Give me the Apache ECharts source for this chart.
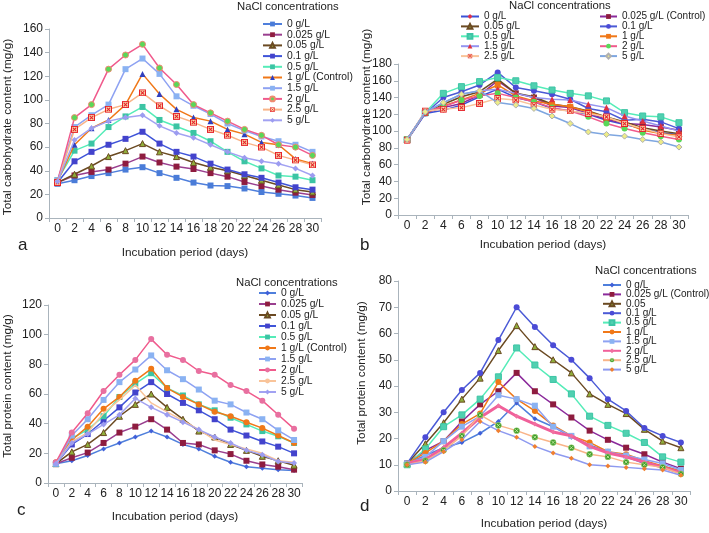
<!DOCTYPE html>
<html><head><meta charset="utf-8">
<script src="https://cdn.jsdelivr.net/npm/echarts/dist/echarts.min.js"></script>
<style>html,body{margin:0;padding:0;background:#fff}#c{width:709px;height:533px}</style>
</head><body><div id="c"></div>
<script>
// ---------- data ----------
const days = ['0','2','4','6','8','10','12','14','16','18','20','22','24','26','28','30'];
const yTicksA = [0,160,20], yTicksB = [0,180,20], yTicksC = [0,120,20], yTicksD = [0,80,10];

const namesA = ['0 g/L','0.025 g/L','0.05 g/L','0.1 g/L','0.5 g/L','1 g/L (Control)','1.5 g/L','2 g/L','2.5 g/L','5 g/L'];
const namesB = ['0 g/L','0.025 g/L (Control)','0.05 g/L','0.1 g/L','0.5 g/L','1 g/L','1.5 g/L','2 g/L','2.5 g/L','5 g/L'];
const namesC = ['0 g/L','0.025 g/L','0.05 g/L','0.1 g/L','0.5 g/L','1 g/L (Control)','1.5 g/L','2 g/L','2.5 g/L','5 g/L'];
const namesD = ['0 g/L','0.025 g/L (Control)','0.05','0.1 g/L','0.5 g/L','1 g/L','1.5 g/L','2 g/L','2.5 g/L','5 g/L'];

// a: total carbohydrate
const a0    = [29,32,35.5,38,41,43,38,34,30,27.5,27,25,22,20.5,19,17];
const a0025 = [30,36,39,41,46,52,47,43.5,41.5,38,35,30.5,27,24,21.5,19.5];
const a005  = [30,37,44,52,57,63,56,52,47,43,40,36,32,28,24,22];
const a01   = [30,48,56,62,67,73,63,56,52,46,41,37,34,30,26,24];
const a05   = [32,57,63,77,86,94,83,77.5,72,65,56,48,42,36,35,32];
const a1    = [31,62,76,83,96,122,105,92,85,82,75,71,64,62,50,46];
const a15   = [32,77,87,96,126,135,122,103,95,88,80,74,69,65,62,56];
const a2    = [31,85,96,126,138,147,127,113,96,89,82,75,70,62,60,53];
const a25   = [30,75,85,92,96,106,95,86,81,75,70,64,60,53,49,45];
const a5    = [31,66,76,82,85,87,78,72,68,62,56,51,48,46,42,36];

// b: total carbohydrate
const b0    = [89,121,125,131,141,150,140,135,127,124,120,113,108,103,98,96];
const b0025 = [90,122,128,133,143,160,145,140,130,128,121,114,109,108,105,101];
const b005  = [90,122,132,141,147,162,145,141,132,129,124,117,111,104,100,97];
const b01   = [89,121,140,147,155,170,152,148,144,138,127,123,113,114,111,103];
const b05   = [90,122,145,153,159,164,160,154,149,145,142,136,122,118,117,110];
const b1    = [90,122,130,137,145,155,142,136,132,129,123,116,110,101,97,95];
const b15   = [90,122,134,144,148,150,145,140,138,137,132,128,118,112,106,100];
const b2    = [90,123,129,137,142,145,140,135,128,124,117,109,103,98,94,90];
const b25   = [89,124,126,128,133,139,137,131,126,124,121,117,109,103,97,93];
const b5    = [90,123,134,144,148,134,131,127,118,109,99,96,94,90,87,81];

// c: total protein
const c0    = [13,15,18.5,23,27,31,35,31,26,23,18,14,11,10,9,8.5];
const c0025 = [13,17,20.5,27,34,38,43,36,27,26,22,19.5,15,12.5,11,9];
const c005  = [13,21,26,34,45,53,60,51,43,35,31,26,22,18,15,12];
const c01   = [13,26,33,42,51,61,68,60,54,49,43,36,32,28,24.5,20];
const c05   = [13,30,36,45,58,67,74,64,59,53,49,44,39.5,35,31.5,27];
const c1    = [14,29,38,50,58,69,77,64,58,53,48,45,41,37,32,27];
const c15   = [13,32,43,56,68,76.5,86,76,70,63,55.5,53,47.5,43,35.5,29];
const c2    = [14,34,47,62,73,83,97,86.5,83,75.5,73,66,62,55.5,46,36.5];
const c25   = [13,28,34,47,56,66,54,48,42,36,29,26,23,20,15,14];
const c5    = [13,27,33,39.5,46,57,51,46,41,36,31,27,22,19,14.5,13.5];

// d: total protein
const d0    = [10.5,13.5,16.5,18.5,22,26.5,33.5,27.5,24.5,20.5,17.5,15,13,10.5,9.5,7.5];
const d0025 = [10.5,15.5,19,26.5,33,38,45,38,33,28,23,19.5,16.5,14,11,8.5];
const d005  = [10.5,18,26,35,43,53.5,63,55,50,45,37,33,29.5,23.5,19,16.5];
const d01   = [10.5,20.5,30,38.5,45,57.5,70,62.5,55.5,50,43,35,30.5,24,21,18.5];
const d05   = [10,16,24.5,29,35,43.5,54.5,48,42.5,37,28.5,25,22,18.5,13,11];
const d1    = [10.5,14.5,19,25.5,29.5,41.5,35,30.5,25,21,18.5,15,14,11.5,9.5,7.5];
const d15   = [10.5,13,19,24.5,28.5,36.5,35,32.5,24.5,21,17,15,13.5,12,10.5,8];
const d2    = [10.5,12,16.5,22,28,32.5,28.5,25.5,22.5,21,17,14.5,13,11,9,7];
const d25   = [10,11.5,15.5,21,29,25,23,20.5,18.5,16.5,14,13,11,10,9,6.5];
const d5    = [10,11,15,19.5,26.5,23,20.5,17,14.5,12.5,10,9.5,9,8.5,8,6];

// ---------- styles ----------
function svgSym(svg){ return 'image://data:image/svg+xml;charset=utf-8,' + encodeURIComponent(svg); }
const XSQ = svgSym("<svg xmlns='http://www.w3.org/2000/svg' width='20' height='20' viewBox='0 0 20 20'><rect x='1.5' y='1.5' width='17' height='17' fill='#f7dcae' stroke='#e6232b' stroke-width='3'/><path d='M5 5L15 15M15 5L5 15' stroke='#e6232b' stroke-width='3'/></svg>");
const XCI = svgSym("<svg xmlns='http://www.w3.org/2000/svg' width='20' height='20' viewBox='0 0 20 20'><circle cx='10' cy='10' r='8.5' fill='#3e9a2c' stroke='#9ad070' stroke-width='2'/><path d='M6 6L14 14M14 6L6 14' stroke='#c8f0a0' stroke-width='2.5'/></svg>");

// [lineColor, symbol, size, fill, border, lineWidth]
const styleA = [
  ['#4f7fdc','rect',6,'#4a7cd8',null,1.5],
  ['#9a3f8f','rect',6,'#8e1c3f',null,1.5],
  ['#6b4a22','triangle',6,'#8fae3a','#6b4a22',1.5],
  ['#3f54d8','rect',6,'#4343cc',null,1.5],
  ['#55ecb8','rect',6,'#3cc4a4',null,1.5],
  ['#f07818','triangle',6,'#3040c0',null,1.5],
  ['#8ea2f2','rect',6,'#8ab2f2',null,1.5],
  ['#f05a8c','circle',6,'#58d858','#f08a70',1.5],
  ['#f9b488',XSQ,7,null,null,1.5],
  ['#a2a2f2','diamond',6,'#9c9cf0',null,1.5]
];
const styleB = [
  ['#3b52d6','diamond',5,'#e0304a',null,1.5],
  ['#8b2a9b','rect',6,'#8e1c3f',null,1.5],
  ['#6b4a22','triangle',6,'#8fae3a','#6b4a22',1.5],
  ['#4b5ad6','circle',6,'#4b4bd6',null,1.5],
  ['#55ecb8','rect',6,'#50d0b0','#3cc4a4',1.5],
  ['#f07818','rect',6,'#f07818',null,1.5],
  ['#9494f0','triangle',6,'#e03040',null,1.5],
  ['#f05a8c','circle',6,'#58d858',null,1.5],
  ['#f9c49a',XSQ,7,null,null,1.5],
  ['#7ea6e0','diamond',6,'#ecec88','#b0b0b0',1.5]
];
const styleC = [
  ['#4f7fdc','diamond',5,'#4060d8',null,1.5],
  ['#9a3f8f','rect',6,'#8e1c3f',null,1.5],
  ['#6b4a22','triangle',6,'#8fae3a','#6b4a22',1.5],
  ['#3f54d8','rect',6,'#4343cc',null,1.5],
  ['#55ecb8','rect',6,'#3cc4a4',null,1.5],
  ['#f07818','circle',6,'#f07818',null,1.5],
  ['#8ea2f2','rect',6,'#8ab2f2',null,1.5],
  ['#f05a8c','circle',6,'#e870a0',null,1.5],
  ['#f9c49a','none',0,null,null,1.5],
  ['#a2a2f2','diamond',6,'#9c9cf0',null,1.5]
];
const styleD = [
  ['#4f7fdc','diamond',5,'#4060d8',null,1.5],
  ['#8b2a9b','rect',6,'#8e1c3f',null,1.5],
  ['#6b4a22','triangle',6,'#8fae3a','#6b4a22',1.5],
  ['#4b5ad6','circle',6,'#4b4bd6',null,1.5],
  ['#55ecb8','rect',6,'#50d0b0','#3cc4a4',1.5],
  ['#f07818','circle',6,'#f07818',null,1.5],
  ['#8ea2f2','rect',6,'#8ab2f2',null,1.5],
  ['#f0609a','diamond',5,'#f070a0',null,3],
  ['#f9b488',XCI,7,null,null,1.5],
  ['#8e9af0','diamond',5,'#f08030',null,1.5]
];

const panels = [
  {names:namesA, data:[a0,a0025,a005,a01,a05,a1,a15,a2,a25,a5], style:styleA},
  {names:namesB, data:[b0,b0025,b005,b01,b05,b1,b15,b2,b25,b5], style:styleB},
  {names:namesC, data:[c0,c0025,c005,c01,c05,c1,c15,c2,c25,c5], style:styleC},
  {names:namesD, data:[d0,d0025,d005,d01,d05,d1,d15,d2,d25,d5], style:styleD}
];

// ---------- layout ----------
const grids = [
  {left:49, top:29, width:272, height:189},
  {left:398, top:64, width:290, height:151},
  {left:48, top:305, width:254, height:178},
  {left:398, top:281, width:292, height:210}
];
const yTicks = [yTicksA,yTicksB,yTicksC,yTicksD];
const yNames = ['Total carbohydrate content (mg/g)','Total carbohydrate content (mg/g)','Total protein content (mg/g)','Total protein content (mg/g)'];
const yNamePos = [[8,127],[367,117],[8,386],[362,373]];
const xGaps = [29,24,28,27];
const axisCol = '#aab4bc';
const txt = '#222';
const FF = 'Liberation Sans, Arial, sans-serif';

const series = [];
panels.forEach((p,gi)=>{
  p.data.forEach((d,i)=>{
    const s = p.style[i];
    series.push({
      type:'line', name:p.names[i]+'|'+gi, xAxisIndex:gi, yAxisIndex:gi, data:d,
      symbol:s[1], symbolSize:s[2], showSymbol: s[1]!=='none',
      lineStyle:{color:s[0], width:s[5]},
      itemStyle:{color:s[3]||s[0], borderColor:s[4]||s[3]||s[0], borderWidth:s[4]?1:0},
      emphasis:{disabled:true}, z: 2+i
    });
  });
});

const legTxt = (fs)=>({fontSize:fs, color:txt, fontFamily:FF});
const strip = n=>n.split('|')[0];
const legends = [
  {left:262, top:19, itemWidth:19, itemHeight:6, itemGap:0.7, textStyle:legTxt(10.3),
   data: namesA.map(n=>n+'|0')},
  {left:460, top:11.5, itemWidth:18, itemHeight:6, itemGap:-0.1, textStyle:legTxt(10),
   data: [0,2,4,6,8].map(i=>namesB[i]+'|1')},
  {left:599, top:11.5, itemWidth:17, itemHeight:6, itemGap:-0.1, textStyle:legTxt(10),
   data: [1,3,5,7,9].map(i=>namesB[i]+'|1')},
  {left:258, top:288, itemWidth:17, itemHeight:6, itemGap:1.0, textStyle:legTxt(10.3),
   data: namesC.map(n=>n+'|2')},
  {left:602, top:280, itemWidth:18, itemHeight:6, itemGap:-0.6, textStyle:legTxt(10),
   data: namesD.map(n=>n+'|3')}
].map(l=>Object.assign({orient:'vertical', formatter:strip, padding:0, selectedMode:false}, l));

const tStyle = {fontSize:11.3, fontWeight:'normal', color:txt, fontFamily:FF};
const lStyle = {fontSize:17, fontWeight:'normal', color:txt, fontFamily:FF};
const titles = [
  {text:'NaCl concentrations', left:237, top:1, padding:0, textStyle:tStyle},
  {text:'NaCl concentrations', left:509, top:0, padding:0, textStyle:tStyle},
  {text:'NaCl concentrations', left:236, top:277, padding:0, textStyle:tStyle},
  {text:'NaCl concentrations', left:595, top:265, padding:0, textStyle:tStyle},
  {text:'a', left:18, top:237, padding:0, textStyle:lStyle},
  {text:'b', left:360, top:237, padding:0, textStyle:lStyle},
  {text:'c', left:17, top:502, padding:0, textStyle:lStyle},
  {text:'d', left:360, top:498, padding:0, textStyle:lStyle}
];

const graphics = yNames.map((t,i)=>({
  type:'text', x:yNamePos[i][0], y:yNamePos[i][1], rotation:Math.PI/2,
  style:{text:t, fontSize:11.8, fill:txt, fontFamily:FF, textAlign:'center', textVerticalAlign:'middle', align:'center', verticalAlign:'middle'}
}));

const option = {
  animation:false,
  backgroundColor:'#fff',
  textStyle:{fontFamily:FF},
  title:titles,
  legend:legends,
  graphic:graphics,
  grid:grids.map(g=>Object.assign({containLabel:false, outerBoundsMode:'none'}, g)),
  xAxis:grids.map((g,gi)=>({
    type:'category', gridIndex:gi, data:days, boundaryGap:true,
    name:'Incubation period (days)', nameLocation:'middle', nameGap:xGaps[gi],
    nameTextStyle:{fontSize:11.8, color:txt, fontFamily:FF},
    axisLine:{show:true, lineStyle:{color:axisCol, width:1}},
    axisTick:{show:true, length:4, alignWithLabel:false, lineStyle:{color:axisCol}},
    axisLabel:{show:true, interval:0, fontSize:12, color:txt, margin:5, fontFamily:FF},
    splitLine:{show:false}
  })),
  yAxis:grids.map((g,gi)=>({
    type:'value', gridIndex:gi, min:yTicks[gi][0], max:yTicks[gi][1], interval:yTicks[gi][2],
    axisLine:{show:true, lineStyle:{color:axisCol, width:1}},
    axisTick:{show:true, length:4, lineStyle:{color:axisCol}},
    axisLabel:{show:true, fontSize:12, color:txt, margin:6, fontFamily:FF},
    splitLine:{show:false}
  })),
  series:series
};
const chart = echarts.init(document.getElementById('c'), null, {renderer:'canvas'});
chart.setOption(option);
</script>
</body></html>
